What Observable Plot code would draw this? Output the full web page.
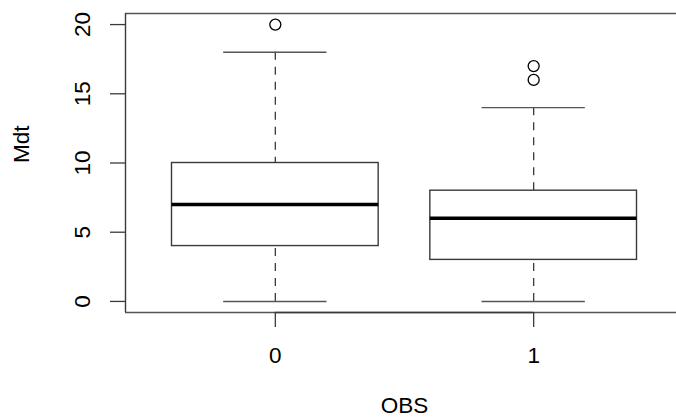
<!DOCTYPE html>
<html>
<head>
<meta charset="utf-8">
<script src="https://cdn.jsdelivr.net/npm/d3@7"></script>
<script src="https://cdn.jsdelivr.net/npm/@observablehq/plot@0.6"></script>
<style>
  html, body { margin: 0; padding: 0; background: white; overflow: hidden; }
  #chart { width: 676px; height: 418px; overflow: hidden; }
  #chart svg { overflow: hidden; }
</style>
</head>
<body>
<div id="chart"></div>
<script>
// ---- data ----
const groups = ["0", "1"];          // OBS categories
const positions = [1, 2];           // box positions (R style)
const lowerWhisker = [0, 0];
const q1 = [4, 3];
const median = [7, 6];
const q3 = [10, 8];
const upperWhisker = [18, 14];
const outlierGroupIndex = [0, 1, 1];
const outlierValues = [20, 16, 17];
const yTicks = [0, 5, 10, 15, 20];
const xLabel = "OBS";
const yLabel = "Mdt";

// ---- tables built from the arrays ----
const boxes = groups.map((g, i) => ({
  group: g, pos: positions[i],
  lo: lowerWhisker[i], q1: q1[i], med: median[i], q3: q3[i], hi: upperWhisker[i]
}));
const outliers = outlierValues.map((v, i) => ({ pos: positions[outlierGroupIndex[i]], value: v }));

// R-like axis ranges (4% extension)
const xr = [0.5, 2.5];
const xpad = 0.04 * (xr[1] - xr[0]);
const yr = [0, 20];
const ypad = 0.04 * (yr[1] - yr[0]);
const xDomain = [xr[0] - xpad, xr[1] + xpad];
const yDomain = [yr[0] - ypad, yr[1] + ypad];

const boxHalf = 0.4, capHalf = 0.2;
const fs = 22.5;
const font = "'Liberation Sans', Arial, Helvetica, sans-serif";
const lineGray = "#3a3a3a";

const chart = Plot.plot({
  width: 676,
  height: 418,
  marginLeft: 125,
  marginRight: 0,
  marginTop: 13,
  marginBottom: 106,
  style: { fontFamily: font, fontSize: fs + "px", color: "black", background: "white", overflow: "hidden" },
  x: { domain: xDomain, range: [125, 683], axis: null },
  y: { domain: yDomain, axis: null },
  marks: [
    // plot box: top, bottom and left sides (right side lies outside the picture)
    Plot.ruleY([yDomain[0], yDomain[1]], { y: d => d, x1: xDomain[0], x2: xDomain[1], stroke: "#555", strokeWidth: 1.4 }),
    Plot.ruleX([xDomain[0]], { x: d => d, y1: yDomain[0], y2: yDomain[1], stroke: lineGray, strokeWidth: 1.4 }),
    // y axis ticks
    Plot.axisY({ ticks: yTicks, tickSize: 15, tickFormat: () => "", label: null, stroke: lineGray, strokeWidth: 1.3 }),
    Plot.text(yTicks, {
      y: d => d, text: d => String(d), frameAnchor: "left", dx: -43,
      rotate: -90, textAnchor: "middle", lineAnchor: "middle", fontSize: fs, fill: "black"
    }),
    // x axis ticks + line
    Plot.axisX({ ticks: positions, tickSize: 15, tickFormat: () => "", label: null, stroke: lineGray, strokeWidth: 1.3 }),
    Plot.ruleY([yDomain[0]], { y: d => d, x1: positions[0], x2: positions[positions.length - 1], stroke: lineGray, strokeWidth: 1.4 }),
    Plot.text(boxes, {
      x: "pos", text: "group", frameAnchor: "bottom", dy: 43,
      lineAnchor: "middle", fontSize: fs, fill: "black"
    }),
    // axis titles
    Plot.text([xLabel], { text: d => d, frameAnchor: "bottom", dy: 100, lineAnchor: "bottom", fontSize: fs, fill: "black",
      x: () => (xr[0] + xr[1]) / 2 }),
    Plot.text([yLabel], { text: d => d, frameAnchor: "left", dx: -104, rotate: -90, lineAnchor: "middle", fontSize: fs, fill: "black",
      y: () => (yr[0] + yr[1]) / 2 }),
    // whiskers (dashed), drawn from the caps inward
    Plot.ruleX(boxes, { x: "pos", y1: "hi", y2: "q3", stroke: lineGray, strokeWidth: 1.3, strokeDasharray: "8,7" }),
    Plot.ruleX(boxes, { x: "pos", y1: "lo", y2: "q1", stroke: lineGray, strokeWidth: 1.3, strokeDasharray: "8,7" }),
    // caps
    Plot.ruleY(boxes, { y: "hi", x1: d => d.pos - capHalf, x2: d => d.pos + capHalf, stroke: "#555", strokeWidth: 1.4 }),
    Plot.ruleY(boxes, { y: "lo", x1: d => d.pos - capHalf, x2: d => d.pos + capHalf, stroke: "#555", strokeWidth: 1.4 }),
    // boxes
    Plot.rect(boxes, { x1: d => d.pos - boxHalf, x2: d => d.pos + boxHalf, y1: "q1", y2: "q3", fill: "white", stroke: lineGray, strokeWidth: 1.4 }),
    // medians
    Plot.ruleY(boxes, { y: "med", x1: d => d.pos - boxHalf, x2: d => d.pos + boxHalf, stroke: "black", strokeWidth: 3.5 }),
    // outliers
    Plot.dot(outliers, { x: "pos", y: "value", r: 5.5, stroke: "black", fill: "none", strokeWidth: 1.3 })
  ]
});
document.getElementById("chart").appendChild(chart);
</script>
</body>
</html>
